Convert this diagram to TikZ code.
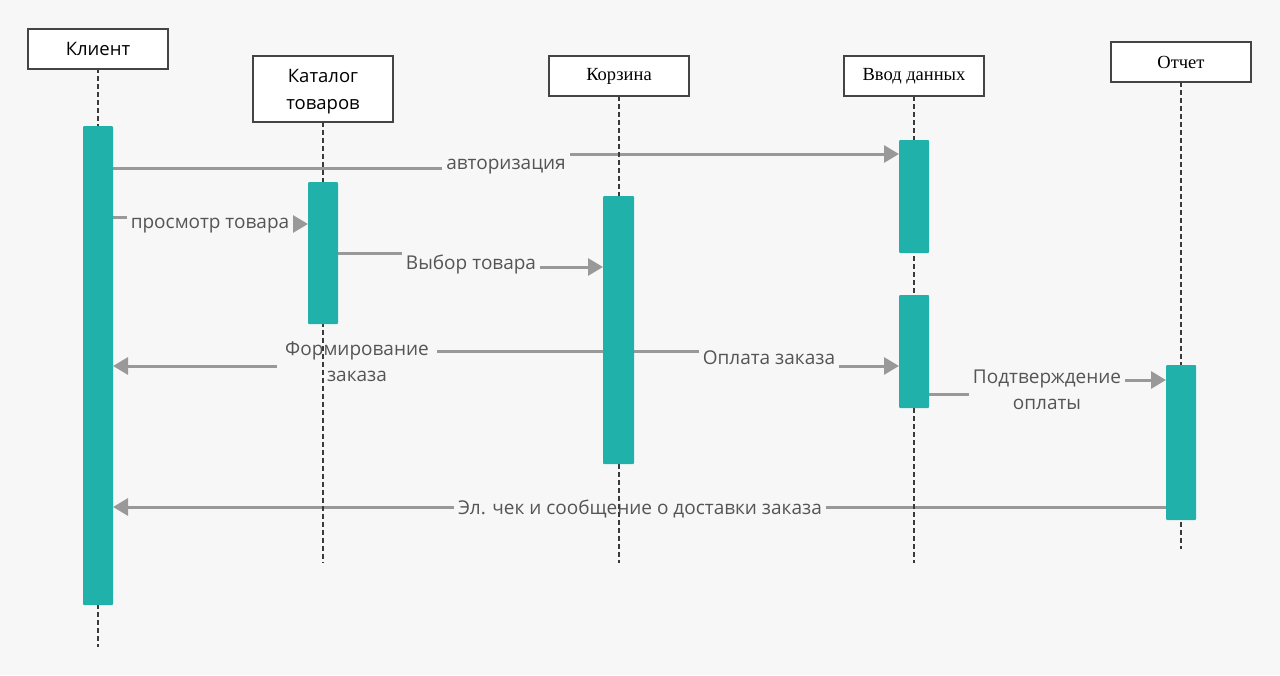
\documentclass[tikz,border=0pt]{standalone}
\usepackage{fontspec}
\setmainfont{Open Sans}
\newfontfamily\serifhdr{Liberation Serif}
\usetikzlibrary{arrows.meta}
\definecolor{bgc}{HTML}{F7F7F7}
\definecolor{barc}{HTML}{20B2AA}
\definecolor{msgc}{HTML}{999999}
\definecolor{boxc}{HTML}{444444}
\definecolor{linec}{HTML}{3A3A3A}
\definecolor{txtc}{HTML}{555555}
\tikzset{
  hdr/.style={draw=boxc, line width=2.4pt, fill=white, minimum width=140pt, minimum height=40pt, inner sep=0pt, align=center, text=black, font=\fontsize{18.5}{26}\selectfont},
  shdr/.style={hdr, font=\serifhdr\fontsize{18.5}{20}\selectfont},
  hdrtext/.style={inner sep=0pt, align=center, text=black, font=\fontsize{18.5}{27}\selectfont},
  lifeline/.style={draw=linec, line width=2.6pt, dash pattern=on 5pt off 3pt},
  actbar/.style={fill=barc, draw=none, rounded corners=1pt},
  msg/.style={draw=msgc, line width=3pt, -{Triangle[length=15pt,width=17pt]}},
  lbl/.style={fill=bgc, text=txtc, inner xsep=4pt, inner ysep=3pt, minimum height=30pt, align=center, font=\fontsize{19}{26}\selectfont},
}
\begin{document}
\begin{tikzpicture}[x=1pt,y=-1pt]
\fill[bgc] (0,0) rectangle (1280,675);
\useasboundingbox (0,0) rectangle (1280,675);
% headers (positions)
\coordinate (pK) at (98,48);
\coordinate (pC) at (323,89);
\coordinate (pB) at (619,76);
\coordinate (pV) at (914,76);
\coordinate (pO) at (1181,62);
% lifeline end points
\coordinate (eK) at (98,647);
\coordinate (eC) at (323,563);
\coordinate (eB) at (619,563);
\coordinate (eV) at (914,563);
\coordinate (eO) at (1181,549);
% activation bars corners
\path (83,126) coordinate (aK1) (113,605) coordinate (aK2);
\path (308,182) coordinate (aC1) (338,324) coordinate (aC2);
\path (603,196) coordinate (aB1) (634,464) coordinate (aB2);
\path (899,140) coordinate (aV1) (929,253) coordinate (aV2);
\path (899,295) coordinate (aW1) (929,408) coordinate (aW2);
\path (1166,365) coordinate (aO1) (1196,520) coordinate (aO2);
% messages
\draw[msg] (113,168) -- (506,168) -- (506,154) -- (899,154);
\node[lbl] (m1) at (506,167) {авторизация};
\draw[msg] (113,217) -- (210,217) -- (210,224) -- (308,224);
\node[lbl] (m2) at (210,226) {просмотр товара};
\draw[msg] (338,253) -- (471,253) -- (471,267) -- (603,267);
\node[lbl] (m3) at (471,264) {Выбор товара};
\draw[msg] (603,351) -- (357,351) -- (357,366) -- (113,366);
\node[lbl, inner xsep=8pt] (m4) at (357,362) {Формирование\\заказа};
\draw[msg] (634,351) -- (769,351) -- (769,366) -- (899,366);
\node[lbl] (m5) at (769,358) {Оплата заказа};
\draw[msg] (929,394) -- (1047,394) -- (1047,380) -- (1166,380);
\node[lbl] (m6) at (1047,390) {Подтверждение\\оплаты};
\draw[msg] (1166,507) -- (113,507);
\node[lbl, minimum height=22pt] (m7) at (640,509) {Эл. чек и сообщение о доставки заказа};
% lifelines
\draw[lifeline] ([yshift=-20pt]pK) -- (eK);
\draw[lifeline] ([yshift=-33pt]pC) -- (eC);
\draw[lifeline] ([yshift=-20pt]pB) -- (eB);
\draw[lifeline] ([yshift=-20pt]pV) -- (eV);
\draw[lifeline] ([yshift=-20pt]pO) -- (eO);
% bars
\fill[actbar] (aK1) rectangle (aK2);
\fill[actbar] (aC1) rectangle (aC2);
\fill[actbar] (aB1) rectangle (aB2);
\fill[actbar] (aV1) rectangle (aV2);
\fill[actbar] (aW1) rectangle (aW2);
\fill[actbar] (aO1) rectangle (aO2);
% header boxes on top
\node[hdr] (hK) at ([yshift=-1pt]pK) {Клиент};
\node[hdr, minimum height=66pt] (hC) at (pC) {};
\node[hdrtext] (hCt) at ([yshift=-3pt]hC.center) {Каталог\\товаров};
\node[shdr] (hB) at (pB) {Корзина};
\node[shdr] (hV) at (pV) {Ввод данных};
\node[shdr] (hO) at (pO) {Отчет};
\end{tikzpicture}
\end{document}
